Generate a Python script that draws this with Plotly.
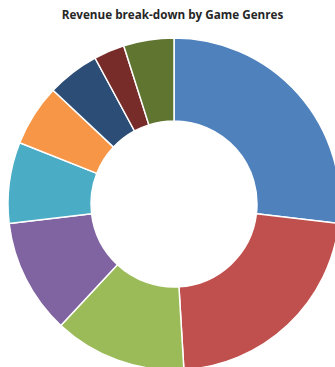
import plotly.graph_objects as go

genres = ["Action", "Shooter", "Sports", "Role-Playing", "Racing",
          "Strategy", "Adventure", "Puzzle", "Other"]
revenue_share = [26.9, 22.2, 12.9, 11.2, 7.9, 6.0, 5.1, 3.0, 4.9]
colors = ["#4F81BD", "#C0504D", "#9BBB59", "#8064A2", "#4BACC6",
          "#F79646", "#2C4D75", "#772C2A", "#5F7530"]

fig = go.Figure(go.Pie(
    labels=genres,
    values=revenue_share,
    hole=0.5,
    sort=False,
    direction="clockwise",
    rotation=0,
    textinfo="none",
    marker=dict(colors=colors, line=dict(color="white", width=1.5)),
    showlegend=False,
))

fig.update_layout(
    width=348, height=372,
    margin=dict(l=8, r=8, t=38, b=2),
    paper_bgcolor="white",
    title=dict(text="<b>Revenue break-down by Game Genres</b>",
               x=172.5 / 348, xanchor="center", y=1 - 15 / 372, yanchor="middle",
               font=dict(family="Open Sans", size=11.7, color="#262626")),
)

fig.write_html("out.html")
